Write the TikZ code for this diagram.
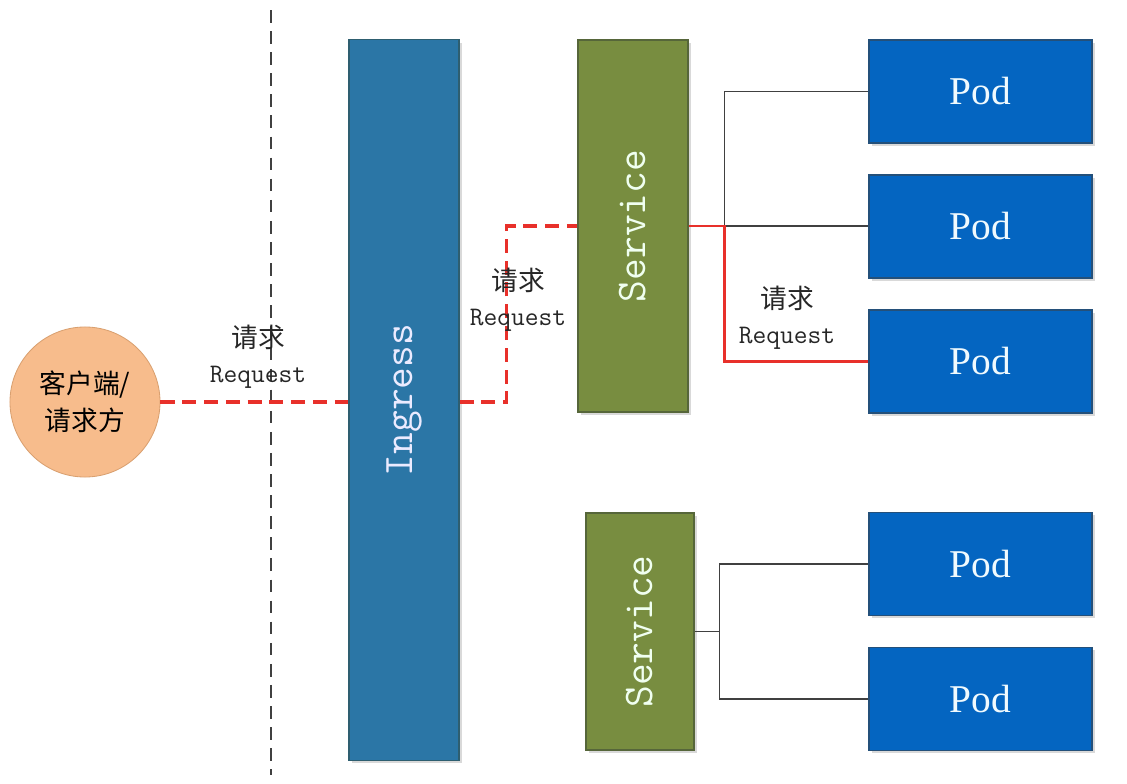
\documentclass[tikz,border=0pt]{standalone}
\usepackage{fontspec}
\setmainfont{Liberation Serif}
\newfontfamily\cjk{Noto Sans CJK SC}
\usetikzlibrary{positioning, shadows}
\definecolor{ingblue}{HTML}{2B76A6}
\definecolor{ingedge}{HTML}{2E5E70}
\definecolor{svcgreen}{HTML}{788D40}
\definecolor{svcedge}{HTML}{56663A}
\definecolor{podblue}{HTML}{0465C1}
\definecolor{podedge}{HTML}{24507A}
\definecolor{clientpeach}{HTML}{F7BC8C}
\definecolor{clientedge}{HTML}{D9A070}
\definecolor{reqred}{HTML}{E8302A}

\begin{document}
\begin{tikzpicture}[
      x=0.025cm, y=-0.025cm,
      every node/.style={inner sep=0pt},
      box/.style={draw, line width=0.8pt, drop shadow={shadow xshift=2pt, shadow yshift=-2pt, opacity=.3}},
      ing/.style={box, fill=ingblue, draw=ingedge, text=blue!8!white, minimum width=2.75cm, minimum height=18cm, font=\fontsize{30pt}{30pt}\ttfamily},
      svc/.style={box, fill=svcgreen, draw=svcedge, text=green!6!white, minimum width=2.75cm, font=\fontsize{30pt}{30pt}\ttfamily},
      pod/.style={box, fill=podblue, draw=podedge, text=cyan!6!white, minimum width=5.575cm, minimum height=2.575cm, font=\fontsize{28pt}{28pt}\selectfont},
      req/.style={align=center, text=black!85, font=\fontsize{19pt}{25pt}\ttfamily},
      reqline/.style={reqred, line width=2.3pt, dash pattern=on 10pt off 5.5pt},
      link/.style={draw=black!75, line width=0.8pt},
    ]
    \useasboundingbox (0,0) rectangle (1127,784);

    % divider
    \draw[black!75, line width=1pt, dash pattern=on 9pt off 6pt] (271,10) -- (271,775);

    % client
    \node[circle, fill=clientpeach, draw=clientedge, line width=0.6pt, minimum size=3.75cm, align=center,
          font=\fontsize{19pt}{26pt}\cjk] (client) at (85,402) {客户端/\\请求方};

    % ingress and services
    \node[ing] (ingress) at (404,400) {\rotatebox{90}{Ingress}};
    \node[svc, minimum height=9.3cm] (svcA) at (633,226) {\rotatebox{90}{Service}};
    \node[svc, minimum width=2.7cm, minimum height=5.925cm] (svcB) at (640,631.5) {\rotatebox{90}{Service}};

    % pods
    \node[pod] (podA) at (980.5,91.5) {Pod};
    \node[pod] (podB) at (980.5,226.5) {Pod};
    \node[pod] (podC) at (980.5,361.5) {Pod};
    \node[pod] (podD) at (980.5,564) {Pod};
    \node[pod] (podE) at (980.5,699) {Pod};

    % request path
    \draw[reqline] (client.east) -- (client.east -| ingress.west);
    \draw[reqline] (ingress.east |- client.east) -- ++(47,0) |- (svcA.west);
    \node[req] (reqA) at (258,357) {{\cjk 请求}\\Request};
    \node[req] (reqB) at (518,300) {{\cjk 请求}\\Request};
    \node[req] (reqC) at (787,318) {{\cjk 请求}\\Request};

    % service A to pods
    \path (svcA.east) -- ++(36,0) coordinate (jA);
    \draw[link] (jA) |- (podA.west);
    \draw[link] (jA) -- (jA -| podB.west);
    \draw[reqred, line width=1.8pt] (svcA.east) -- (jA) |- (podC.west);

    % service B to pods
    \path (svcB.east) -- ++(25,0) coordinate (jB);
    \draw[link] (svcB.east) -- (jB);
    \draw[link] (jB) |- (podD.west);
    \draw[link] (jB) |- (podE.west);
  \end{tikzpicture}
\end{document}
